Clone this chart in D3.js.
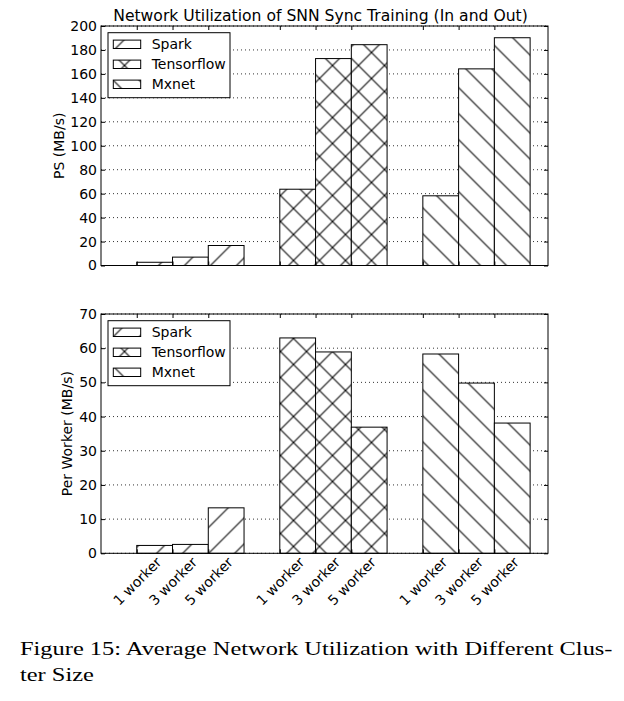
<!DOCTYPE html>
<html><head><meta charset="utf-8">
<script src="https://cdn.jsdelivr.net/npm/d3@7"></script>
<style>body{margin:0;background:#fff}</style>
</head><body>
<svg id="chart" width="624" height="701"></svg>
<script>
// ---- data ----
const categories = ["1 worker", "3 worker", "5 worker"];
const seriesNames = ["Spark", "Tensorflow", "Mxnet"];
const psSpark = [2.7, 7.0, 16.7];
const psTensorflow = [63.7, 172.8, 184.4];
const psMxnet = [58.2, 164.2, 190.2];
const workerSpark = [2.3, 2.6, 13.3];
const workerTensorflow = [63.0, 58.9, 36.9];
const workerMxnet = [58.3, 49.8, 38.1];
const psTicks = [0, 20, 40, 60, 80, 100, 120, 140, 160, 180, 200];
const workerTicks = [0, 10, 20, 30, 40, 50, 60, 70];
const titleText = "Network Utilization of SNN Sync Training (In and Out)";
const psLabel = "PS (MB/s)";
const workerLabel = "Per Worker (MB/s)";
const captionLines = ["Figure 15: Average Network Utilization with Different Clus-", "ter Size"];

// ---- layout ----
const svg = d3.select("#chart");
const FONT = "DejaVu Sans";
const L = 101, R = 548;
const S = 26; // hatch period
const hatchDefs = [
  {id: "h0", d: `M0,${S} L${S},0 M-2,2 L2,-2 M${S-2},${S+2} L${S+2},${S-2}`},
  {id: "h1", d: `M0,${S} L${S},0 M-2,2 L2,-2 M${S-2},${S+2} L${S+2},${S-2} M0,0 L${S},${S} M-2,${S-2} L2,${S+2} M${S-2},-2 L${S+2},2`},
  {id: "h2", d: `M0,0 L${S},${S} M-2,${S-2} L2,${S+2} M${S-2},-2 L${S+2},2`}
];
const defs = svg.append("defs");
hatchDefs.forEach(h => {
  const p = defs.append("pattern").attr("id", h.id).attr("patternUnits", "userSpaceOnUse")
    .attr("x", -5.5).attr("y", 13.5).attr("width", S).attr("height", S);
  p.append("rect").attr("width", S).attr("height", S).attr("fill", "#fff");
  p.append("path").attr("d", h.d).attr("stroke", "#000").attr("stroke-width", 1.05).attr("fill", "none");
});

const x = d3.scaleLinear().domain([0, 12.5]).range([L, R]);
const slots = [];
seriesNames.forEach((s, i) => categories.forEach((c, j) => slots.push(1 + 4 * i + j)));

function panel(top, bottom, series, ticks, ylabel, ylabelX, showLabels) {
  const y = d3.scaleLinear().domain([ticks[0], ticks[ticks.length - 1]]).range([bottom, top]);
  const g = svg.append("g");
  g.append("g").selectAll("line").data(ticks).join("line")
    .attr("x1", L).attr("x2", R).attr("y1", d => y(d)).attr("y2", d => y(d))
    .attr("stroke", "#000").attr("stroke-width", 0.8).attr("stroke-dasharray", "1,3");
  series.forEach((vals, i) => {
    g.append("g").selectAll("rect").data(vals).join("rect")
      .attr("x", (d, j) => x(1 + 4 * i + j)).attr("width", x(1) - x(0))
      .attr("y", d => y(d)).attr("height", d => y(0) - y(d))
      .attr("fill", `url(#h${i})`).attr("stroke", "#000").attr("stroke-width", 1);
  });
  const left = g.append("g").attr("transform", `translate(${L},0)`)
    .call(d3.axisLeft(y).tickValues(ticks).tickSize(-4).tickSizeOuter(0).tickPadding(4));
  const right = g.append("g").attr("transform", `translate(${R},0)`)
    .call(d3.axisRight(y).tickValues(ticks).tickSize(-4).tickSizeOuter(0).tickFormat(""));
  const topAx = g.append("g").attr("transform", `translate(0,${top})`)
    .call(d3.axisTop(x).tickValues(slots).tickSize(-4).tickSizeOuter(0).tickFormat(""));
  const botAx = g.append("g").attr("transform", `translate(0,${bottom})`)
    .call(d3.axisBottom(x).tickValues(slots).tickSize(-4).tickSizeOuter(0)
      .tickFormat((d, k) => showLabels ? categories[k % 3] : ""));
  [left, right, topAx, botAx].forEach(a => {
    a.select(".domain").remove();
    a.selectAll("line").attr("stroke", "#000");
    a.selectAll("text").attr("font-family", FONT).attr("font-size", 14).attr("fill", "#000");
  });
  botAx.selectAll("text").attr("y", null).attr("dy", "0.35em").attr("text-anchor", "middle")
    .attr("transform", "translate(0,28) rotate(-45)");
  g.append("rect").attr("x", L).attr("y", top).attr("width", R - L).attr("height", bottom - top)
    .attr("fill", "none").attr("stroke", "#000").attr("stroke-width", 1);
  g.append("text").attr("transform", `translate(${ylabelX},${(top + bottom) / 2}) rotate(-90)`)
    .attr("text-anchor", "middle").attr("dominant-baseline", "central")
    .attr("font-family", FONT).attr("font-size", 14).text(ylabel);
  const lg = g.append("g").attr("transform", `translate(108,${top + 6.7})`);
  lg.append("rect").attr("width", 122).attr("height", 65).attr("fill", "#fff")
    .attr("stroke", "#000").attr("stroke-width", 1);
  seriesNames.forEach((s, i) => {
    const cy = top + 18.3 + 20 * i;
    g.append("rect").attr("x", 113.3).attr("y", cy - 4.2).attr("width", 27.4).attr("height", 8.4)
      .attr("fill", `url(#h${i})`).attr("stroke", "#000").attr("stroke-width", 1);
    g.append("text").attr("x", 151.7).attr("y", cy).attr("dominant-baseline", "central")
      .attr("font-family", FONT).attr("font-size", 14).text(s);
  });
}

panel(26, 265.5, [psSpark, psTensorflow, psMxnet], psTicks, psLabel, 59, false);
panel(314, 553.3, [workerSpark, workerTensorflow, workerMxnet], workerTicks, workerLabel, 67, true);

svg.append("text").attr("x", (L + R) / 2 - 4).attr("y", 20.7).attr("text-anchor", "middle")
  .attr("font-family", FONT).attr("font-size", 15.6).text(titleText);

// caption: Times-like serif, widened horizontally to match the justified line
const cap1 = svg.append("text").attr("font-family", "Liberation Serif").attr("font-size", 18.5).text(captionLines[0]);
const natural = cap1.node().getComputedTextLength();
const sx = 593 / natural;
cap1.attr("transform", `translate(20,655.2) scale(${sx},1)`);
svg.append("text").attr("font-family", "Liberation Serif").attr("font-size", 18.5)
  .attr("transform", `translate(20,680.8) scale(${sx},1)`).text(captionLines[1]);
</script>
</body></html>
